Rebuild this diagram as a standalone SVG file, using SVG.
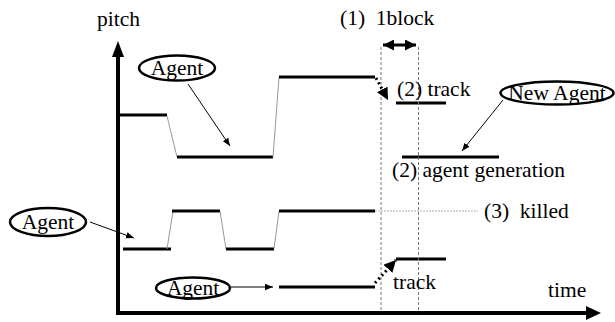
<svg xmlns="http://www.w3.org/2000/svg" width="615" height="322" viewBox="0 0 615 322" font-family="'Liberation Serif', Tinos, 'Times New Roman', Times, 'DejaVu Serif', serif">
  <defs>
    <marker id="thin" viewBox="0 0 10 10" refX="10" refY="5" markerWidth="8" markerHeight="8" markerUnits="userSpaceOnUse" orient="auto">
      <path d="M0,1 L10,5 L0,9 Z" fill="#000"/>
    </marker>
    <marker id="dot" viewBox="0 0 10 10" refX="10" refY="5" markerWidth="12" markerHeight="12" markerUnits="userSpaceOnUse" orient="auto">
      <path d="M0,0 L10,5 L0,10 Z" fill="#000"/>
    </marker>
    <marker id="dbl" viewBox="0 0 10 10" refX="10" refY="5" markerWidth="11" markerHeight="11" markerUnits="userSpaceOnUse" orient="auto-start-reverse">
      <path d="M0,0 L10,5 L0,10 Z" fill="#000"/>
    </marker>
  </defs>
  <style>
    text { font-size: 21.5px; fill: #000; white-space: pre; }
    .seg { stroke: #000; stroke-width: 3; fill: none; }
    .ramp { stroke: #999; stroke-width: 1; fill: none; }
    .axis { stroke: #000; stroke-width: 4; fill: none; }
    .guide { stroke: #777; stroke-width: 1; stroke-dasharray: 3 2; fill: none; }
    .ptr { stroke: #000; stroke-width: 1; fill: none; }
    .dots { stroke: #000; stroke-width: 3; stroke-dasharray: 2 3; fill: none; }
    .bubble { fill: #fff; stroke: #000; stroke-width: 2.5; }
  </style>

  <!-- axes -->
  <g id="axes">
    <polyline class="axis" points="118,56 118,313 588,313"/>
    <path d="M112,57 L118,41 L124,57 Z" fill="#000"/>
    <path d="M586,306 L601,313 L586,320 Z" fill="#000"/>
    <text x="97" y="26">pitch</text>
    <text x="548" y="297">time</text>
  </g>

  <!-- upper pitch track -->
  <g id="track-upper">
    <line class="seg" x1="120" y1="115" x2="167" y2="115"/>
    <line class="ramp" x1="167" y1="116" x2="177" y2="157"/>
    <line class="seg" x1="177" y1="157" x2="273" y2="157"/>
    <line class="ramp" x1="273" y1="157" x2="279" y2="77"/>
    <line class="seg" x1="279" y1="77" x2="375" y2="77"/>
    <line class="seg" x1="396" y1="103" x2="446" y2="103"/>
  </g>

  <!-- middle pitch track -->
  <g id="track-middle">
    <line class="seg" x1="123" y1="249" x2="171" y2="249"/>
    <line class="ramp" x1="167" y1="249" x2="173" y2="211"/>
    <line class="seg" x1="172" y1="211" x2="220" y2="211"/>
    <line class="ramp" x1="220" y1="211" x2="226" y2="249"/>
    <line class="seg" x1="226" y1="249" x2="274" y2="249"/>
    <line class="ramp" x1="274" y1="249" x2="279" y2="211"/>
    <line class="seg" x1="279" y1="211" x2="375" y2="211"/>
  </g>

  <!-- lower pitch track -->
  <g id="track-lower">
    <line class="seg" x1="279" y1="287" x2="375" y2="287"/>
    <line class="seg" x1="396" y1="259" x2="446" y2="259"/>
  </g>

  <!-- newly generated track -->
  <g id="track-new">
    <line class="seg" x1="402" y1="157" x2="499" y2="157"/>
  </g>

  <!-- one-block window -->
  <g id="block">
    <line class="guide" x1="381" y1="47" x2="381" y2="311"/>
    <line class="guide" x1="418.5" y1="47" x2="418.5" y2="311"/>
    <line x1="383" y1="45" x2="416" y2="45" stroke="#000" stroke-width="3" marker-start="url(#dbl)" marker-end="url(#dbl)"/>
    <text x="340" y="25">(1)  1block</text>
  </g>

  <!-- agent bubbles -->
  <g id="agent-top">
    <ellipse class="bubble" cx="177" cy="68" rx="38" ry="12.5"/>
    <text x="177" y="75" text-anchor="middle">Agent</text>
  </g>
  <g id="agent-left">
    <ellipse class="bubble" cx="48" cy="222" rx="38" ry="14"/>
    <text x="48" y="229" text-anchor="middle">Agent</text>
  </g>
  <g id="agent-bottom">
    <ellipse class="bubble" cx="193" cy="288" rx="37" ry="10.5"/>
    <text x="193" y="295" text-anchor="middle">Agent</text>
  </g>
  <g id="agent-new">
    <ellipse class="bubble" cx="557" cy="93" rx="56.5" ry="11.5"/>
    <text x="557" y="100" text-anchor="middle">New Agent</text>
  </g>

  <!-- labels -->
  <g id="labels">
    <text x="397" y="96">(2) track</text>
    <text x="392" y="177">(2) agent generation</text>
    <text x="484" y="218">(3)  killed</text>
    <text x="393" y="289">track</text>
  </g>

  <!-- connectors -->
  <g id="connectors">
    <line class="ptr" x1="188" y1="84" x2="230" y2="146" marker-end="url(#thin)"/>
    <line class="ptr" x1="90" y1="222" x2="134" y2="238" marker-end="url(#thin)"/>
    <line class="ptr" x1="231" y1="287" x2="273" y2="287" marker-end="url(#thin)"/>
    <line class="ptr" x1="503" y1="100" x2="462" y2="151" marker-end="url(#thin)"/>
    <line class="dots" x1="376" y1="78" x2="388" y2="100" marker-end="url(#dot)"/>
    <line class="dots" x1="375" y1="283" x2="396" y2="260" marker-end="url(#dot)"/>
    <line x1="375" y1="211" x2="478" y2="211" stroke="#aaa" stroke-width="1" stroke-dasharray="2 1"/>
  </g>
</svg>
